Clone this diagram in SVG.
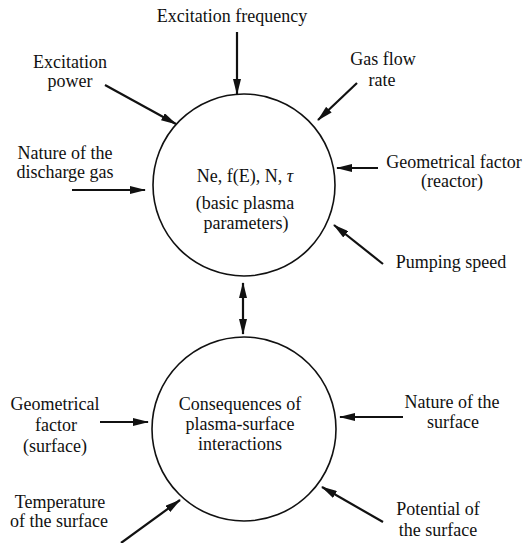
<svg xmlns="http://www.w3.org/2000/svg" width="526" height="543" viewBox="0 0 526 543">
<style>
text{font-family:"Liberation Serif","Times New Roman",serif;font-size:18px;fill:#111;text-anchor:middle}
.node circle{fill:none;stroke:#111;stroke-width:1.6}
.conn line{stroke:#111;stroke-width:2.2;marker-end:url(#ah)}
.conn line.both{marker-start:url(#ah)}
</style>
<defs>
<marker id="ah" viewBox="0 0 16 8" refX="15" refY="4" markerWidth="16" markerHeight="8" orient="auto-start-reverse" markerUnits="userSpaceOnUse">
<path d="M0,0 L16,4 L0,8 z" fill="#111"/>
</marker>
</defs>
<rect width="526" height="543" fill="#fff"/>
<g id="plasma" class="node">
<circle cx="244" cy="185" r="91"/>
<text x="245" y="182">Ne, f(E), N, <tspan font-style="italic">τ</tspan></text>
<text x="245" y="209">(basic plasma</text>
<text x="246" y="229">parameters)</text>
</g>
<g id="surface" class="node">
<circle cx="244" cy="429" r="92"/>
<text x="240" y="410">Consequences of</text>
<text x="240" y="430">plasma-surface</text>
<text x="240" y="450">interactions</text>
</g>
<g id="freq"><text x="232" y="22">Excitation frequency</text></g>
<g id="power"><text x="70" y="68">Excitation</text><text x="70" y="87">power</text></g>
<g id="gasflow"><text x="383" y="65">Gas flow</text><text x="382" y="86">rate</text></g>
<g id="gasnature"><text x="65" y="159">Nature of the</text><text x="65" y="178">discharge gas</text></g>
<g id="georeactor"><text x="454" y="168">Geometrical factor</text><text x="452" y="187">(reactor)</text></g>
<g id="pumping"><text x="451" y="268">Pumping speed</text></g>
<g id="geosurface"><text x="55" y="410">Geometrical</text><text x="56" y="431">factor</text><text x="55" y="452">(surface)</text></g>
<g id="surfnature"><text x="452" y="408">Nature of the</text><text x="453" y="428">surface</text></g>
<g id="temperature"><text x="60" y="508">Temperature</text><text x="59" y="527">of the surface</text></g>
<g id="potential"><text x="438" y="515">Potential of</text><text x="438" y="536">the surface</text></g>
<g id="connectors" class="conn">
<line x1="237" y1="32" x2="237" y2="94"/>
<line x1="105" y1="85" x2="176" y2="124"/>
<line x1="357" y1="83" x2="318" y2="120"/>
<line x1="378" y1="168" x2="337" y2="168"/>
<line x1="72" y1="190" x2="145" y2="190"/>
<line x1="383" y1="264" x2="334" y2="225"/>
<line class="both" x1="243" y1="283" x2="243" y2="334"/>
<line x1="100" y1="422" x2="148" y2="422"/>
<line x1="403" y1="417" x2="340" y2="417"/>
<line x1="121" y1="543" x2="180" y2="500"/>
<line x1="383" y1="522" x2="322" y2="487"/>
</g>
</svg>
